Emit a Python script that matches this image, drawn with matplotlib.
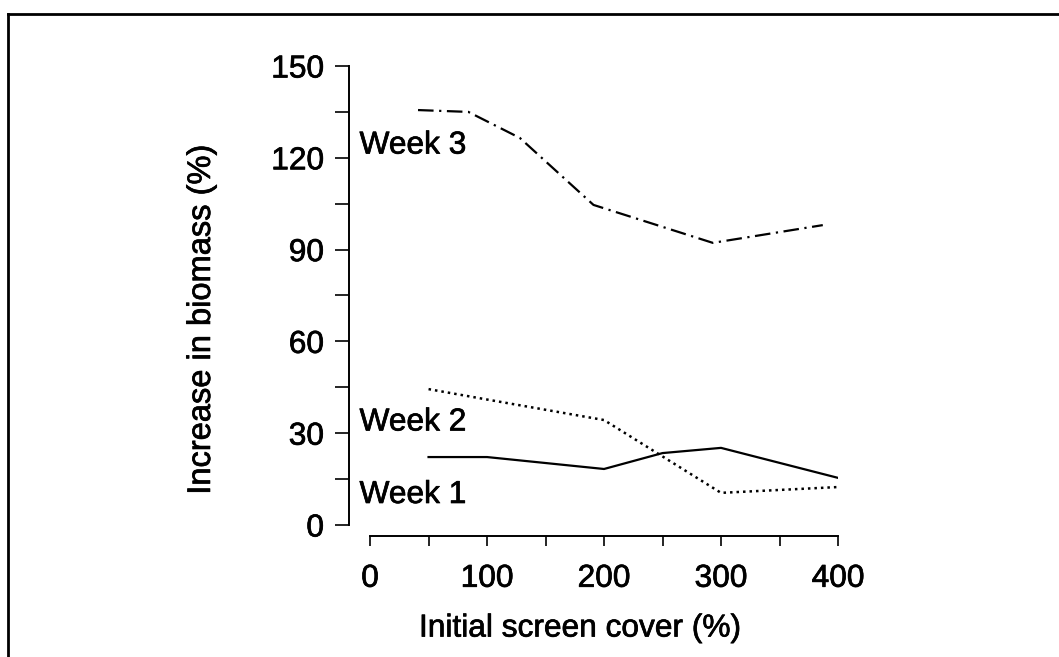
import matplotlib
matplotlib.use('Agg')
import matplotlib.pyplot as plt
from matplotlib.lines import Line2D
import matplotlib.patheffects as pe

plt.rcParams['font.family'] = ['Liberation Sans', 'DejaVu Sans']

# screen cover (%) and biomass increase (%) per week
week1_x = [50, 100, 200, 250, 300, 400]
week1_y = [22.2, 22.2, 18.3, 23.5, 25.2, 15.4]

week2_x = [50, 100, 200, 300, 400]
week2_y = [44.4, 41.0, 34.3, 10.5, 12.4]

week3_x = [41, 84, 128, 191, 293, 387]
week3_y = [135.6, 135.0, 126.5, 104.6, 92.2, 98.0]

xticks = [0, 100, 200, 300, 400]
yticks = [0, 30, 60, 90, 120, 150]

W, H = 1059, 657
fig = plt.figure(figsize=(W / 100.0, H / 100.0), dpi=100)

# axes box in pixels: left 349, right 838, top 66, bottom 536
ax = fig.add_axes([349.0 / W, 1 - 536.0 / H, (838 - 349.0) / W, (536 - 66.0) / H])

ax.plot(week1_x, week1_y, color='black', lw=1.6, ls='-')
ax.plot(week2_x, week2_y, color='black', lw=1.8, ls=(0, (1, 1.6)))
ax.plot(week3_x, week3_y, color='black', lw=1.6, ls=(0, (7, 2.5, 1, 2.5)))

fs = 22.8
heavy = [pe.withStroke(linewidth=0.5, foreground='black')]

ax.text(-9, 124, 'Week 3', fontsize=fs, va='center', ha='left', path_effects=heavy)
ax.text(-9, 33.5, 'Week 2', fontsize=fs, va='center', ha='left', path_effects=heavy)
ax.text(-9, 9.8, 'Week 1', fontsize=fs, va='center', ha='left', path_effects=heavy)

ax.set_xlim(-18, 400)
ax.set_ylim(-3.6, 150)

for s in ['top', 'right']:
    ax.spines[s].set_visible(False)
ax.spines['left'].set_bounds(0, 150)
ax.spines['bottom'].set_bounds(0, 400)
ax.spines['left'].set_linewidth(1.4)
ax.spines['bottom'].set_linewidth(1.4)

ax.set_xticks(xticks)
ax.set_xticks(range(50, 400, 100), minor=True)
ax.set_yticks(yticks)
ax.set_yticks(range(15, 150, 30), minor=True)

ax.tick_params(axis='y', which='both', direction='out', length=10, width=1.2, pad=8, labelsize=fs)
ax.tick_params(axis='x', which='both', direction='out', length=7, width=1.2, pad=13, labelsize=fs)
for lab in ax.get_xticklabels() + ax.get_yticklabels():
    lab.set_path_effects(heavy)

ax.set_xlabel('Initial screen cover (%)', fontsize=fs, path_effects=heavy)
ax.set_ylabel('Increase in biomass (%)', fontsize=23.5, path_effects=heavy)
ax.xaxis.set_label_coords(0.472, -0.165)
ax.yaxis.set_label_coords(-0.27, 0.46)

# frame lines along the top and left of the figure
fig.add_artist(Line2D([8.0 / W, 8.0 / W], [0, 1 - 13.5 / H], color='black', lw=2.0))
fig.add_artist(Line2D([8.0 / W, 1.0], [1 - 13.5 / H, 1 - 13.5 / H], color='black', lw=2.0))

fig.savefig('out.png', dpi=100)
